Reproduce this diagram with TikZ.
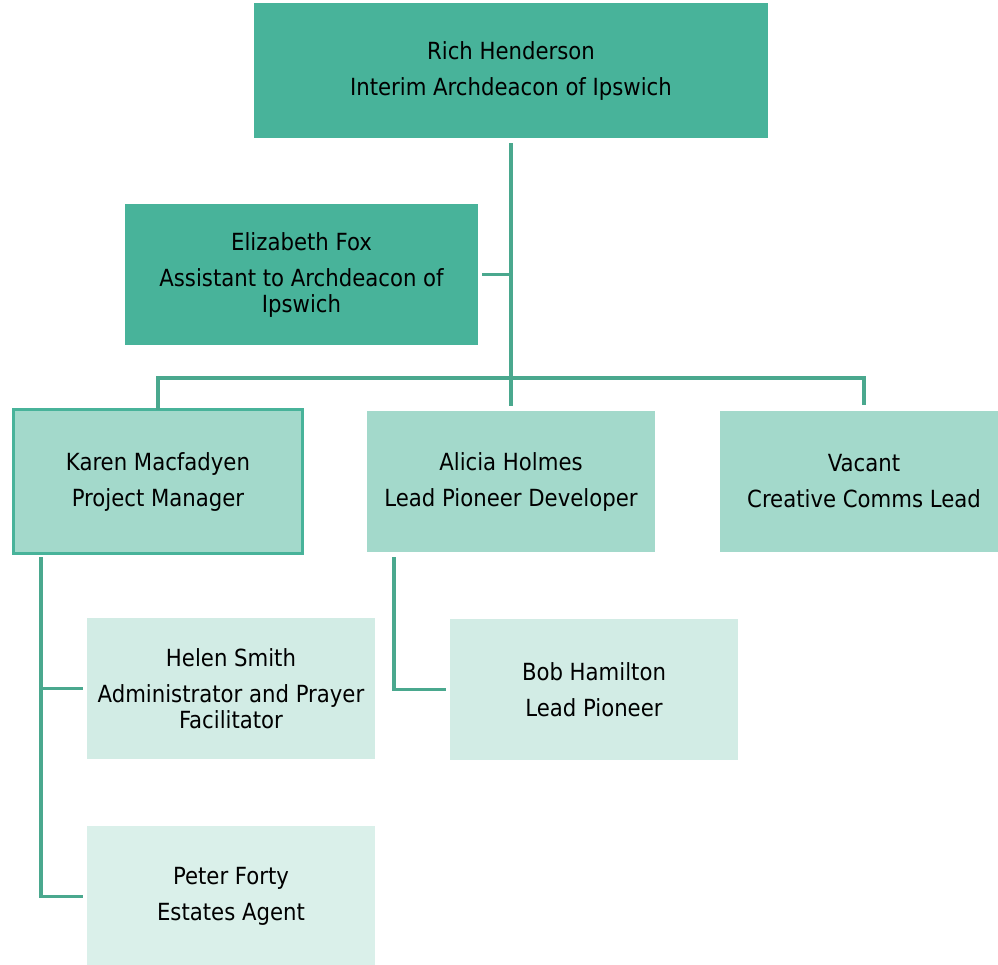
\documentclass[tikz,border=0pt]{standalone}
\usepackage{fontspec}
\setmainfont{DejaVu Sans Condensed}
\definecolor{dk}{HTML}{48B39A}
\definecolor{md}{HTML}{A3D9CB}
\definecolor{lt}{HTML}{D2ECE5}
\definecolor{lt2}{HTML}{DAF0EA}
\definecolor{ln}{HTML}{4AA88E}
\begin{document}
\begin{tikzpicture}[x=1pt,y=-1pt,
  box/.style={rectangle,inner sep=0pt,outer sep=0pt,align=center,
    font=\fontsize{23.6}{26}\selectfont,text=black},
  conn/.style={draw=ln,line width=3.6pt,line cap=butt,line join=miter}]
\useasboundingbox (0,0) rectangle (998,964);
\node[box,fill=dk,minimum width=514pt,minimum height=135pt] (top) at (511,70.5)
  {Rich Henderson\\[10pt]Interim Archdeacon of Ipswich};
\node[box,fill=dk,minimum width=353pt,minimum height=141pt] (eliz) at (301.5,274.5)
  {Elizabeth Fox\\[10pt]Assistant to Archdeacon of\\Ipswich};
\node[box,fill=md,draw=dk,line width=3.5pt,minimum width=289pt,minimum height=144pt] (karen) at (158,481.5)
  {Karen Macfadyen\\[10pt]Project Manager};
\node[box,fill=md,minimum width=288pt,minimum height=141pt] (alicia) at (511,481.5)
  {Alicia Holmes\\[10pt]Lead Pioneer Developer};
\node[box,fill=md,minimum width=288pt,minimum height=141pt] (vacant) at (864,481.5)
  {Vacant\\[10pt]Creative Comms Lead};
\node[box,fill=lt,minimum width=288pt,minimum height=141pt] (helen) at (231,688.5)
  {Helen Smith\\[10pt]Administrator and Prayer\\Facilitator};
\node[box,fill=lt,minimum width=288pt,minimum height=141pt] (bob) at (594,689.5)
  {Bob Hamilton\\[10pt]Lead Pioneer};
\node[box,fill=lt2,minimum width=288pt,minimum height=141pt] (peter) at (231,896.5)
  {Peter Forty\\[10pt]Estates Agent};
\coordinate (bus) at (511,378);
\coordinate (kx) at (41,557);
\coordinate (ax) at (394,557);
\draw[conn,shorten <=5pt,shorten >=5pt] (top.south) -- (alicia.north);
\draw[conn,shorten <=4pt] (eliz.east) -- (eliz.east -| top.south);
\draw[conn] (karen.north) -- (karen.north |- bus) -- (vacant.north |- bus) -- ([yshift=6pt]vacant.north);
\draw[conn,shorten >=4pt] (kx) |- (peter.west);
\draw[conn,shorten >=4pt] (kx |- helen.west) -- (helen.west);
\draw[conn,shorten >=4pt] (ax) |- (bob.west);
\end{tikzpicture}
\end{document}
